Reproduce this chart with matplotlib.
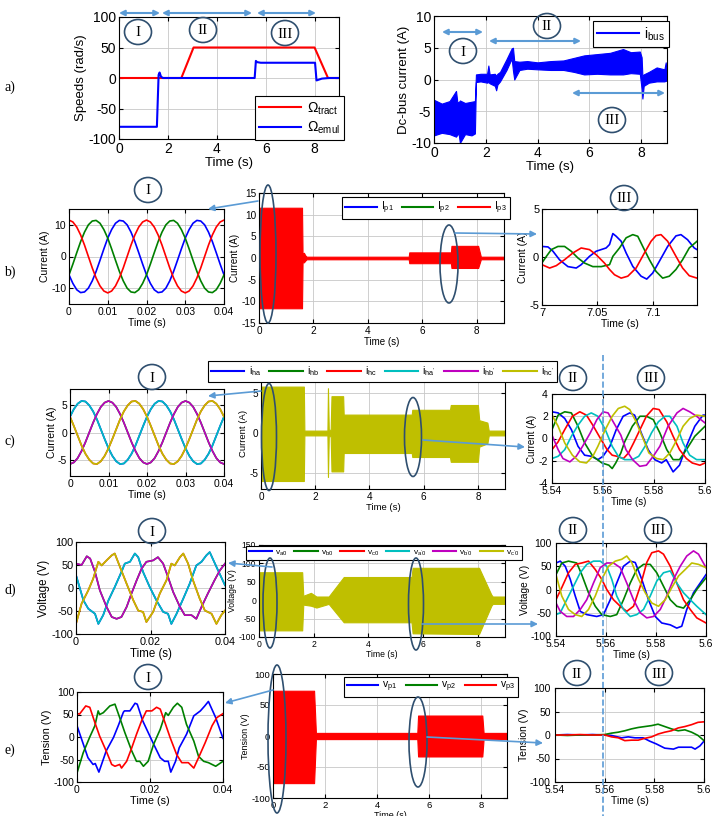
import numpy as np
import matplotlib
matplotlib.use('Agg')
import matplotlib.pyplot as plt
from matplotlib.patches import Ellipse
from matplotlib.lines import Line2D
from matplotlib.ticker import FuncFormatter

plt.rcParams['font.family'] = ['Liberation Sans', 'DejaVu Sans']
plt.rcParams['mathtext.fontset'] = 'custom'
plt.rcParams['mathtext.rm'] = 'Liberation Sans'
plt.rcParams['mathtext.it'] = 'Liberation Sans:italic'
plt.rcParams['axes.unicode_minus'] = False

W, H = 712, 816

# ---------------- data ----------------
# a) speeds
tract_t = [0, 2.55, 3.05, 8.0, 8.55, 9]
tract_w = [0, 0, 50, 50, 0, 0]
emul_t = [0, 1.55, 1.62, 1.66, 1.72, 1.8, 5.55, 5.6, 5.65, 5.8, 8.02, 8.08, 8.15, 8.3, 8.6, 9]
emul_w = [-80, -80, 5, 9, 2, 0, 0, 28, 26, 25, 25, -4, -3, -1, 0, 0]

# a) dc-bus current envelope
ibus_t = [0, 0.3, 0.6, 0.85, 0.9, 0.95, 1.0, 1.2, 1.45, 1.58, 1.62, 1.8, 2.05, 2.1, 2.15, 2.35, 2.4, 2.45,
          2.55, 2.8, 3.0, 3.05, 3.1, 3.3, 3.6, 4.0, 4.5, 5.0, 5.4, 5.8, 6.3, 6.8, 7.3, 7.6, 7.95, 8.02,
          8.05, 8.1, 8.3, 8.6, 8.9, 8.95, 9.0]
ibus_hi = [-3.2, -3.8, -3.4, -1.8, -3.5, -3.6, -3.3, -3.7, -3.5, -3.4, 0.8, 0.9, 0.9, 2.2, 0.8, 0.9, 0.6, 0.9,
           1.2, 3.2, 4.9, 5.0, 2.9, 2.8, 2.9, 2.7, 2.9, 3.0, 3.4, 3.8, 4.0, 4.2, 4.8, 4.3, 4.4, 3.5,
           0.5, 0.8, 1.2, 1.9, 1.6, 2.7, 0.8]
ibus_lo = [-8.8, -8.4, -8.6, -9.0, -8.7, -8.5, -10.0, -8.6, -8.8, -8.5, -0.4, -0.3, -0.5, -0.4, -0.6, -1.0, -1.7, -0.8,
           -0.3, 1.5, 3.3, 1.4, 0.0, 1.5, 1.7, 1.6, 1.5, 1.5, 1.2, 0.8, 0.9, 0.8, 0.8, 1.0, 0.9, -1.5,
           -3.0, -1.0, -0.5, -0.3, -0.3, -0.2, -0.2]

# b) primary currents, zoom I (t in ms steps)
tI = np.linspace(0, 0.04, 41)
ip1_I = [-5.8, -8.5, -10.5, -11.4, -11.2, -10.0, -7.7, -4.7, -1.2, 2.4, 5.8, 8.5, 10.5, 11.4, 11.2, 10.0, 7.7, 4.7, 1.2, -2.4,
         -5.8, -8.5, -10.5, -11.4, -11.2, -10.0, -7.7, -4.7, -1.2, 2.4, 5.8, 8.5, 10.5, 11.4, 11.2, 10.0, 7.7, 4.7, 1.2, -2.4, -5.8]
ip2_I = [-5.8, -2.4, 1.2, 4.7, 7.7, 10.0, 11.2, 11.4, 10.5, 8.5, 5.8, 2.4, -1.2, -4.7, -7.7, -10.0, -11.2, -11.4, -10.5, -8.5,
         -5.8, -2.4, 1.2, 4.7, 7.7, 10.0, 11.2, 11.4, 10.5, 8.5, 5.8, 2.4, -1.2, -4.7, -7.7, -10.0, -11.2, -11.4, -10.5, -8.5, -5.8]
ip3_I = [11.5, 10.9, 9.3, 6.8, 3.6, 0, -3.6, -6.8, -9.3, -10.9, -11.5, -10.9, -9.3, -6.8, -3.6, 0, 3.6, 6.8, 9.3, 10.9,
         11.5, 10.9, 9.3, 6.8, 3.6, 0, -3.6, -6.8, -9.3, -10.9, -11.5, -10.9, -9.3, -6.8, -3.6, 0, 3.6, 6.8, 9.3, 10.9, 11.5]

# b) primary current envelope over the test
ip_t = [0, 1.58, 1.6, 1.65, 1.7, 1.75, 5.5, 5.52, 7.05, 7.07, 8.05, 8.15, 9]
ip_hi = [11.6, 11.6, 1.0, 1.2, 0.6, 0.3, 0.3, 1.3, 1.3, 2.8, 2.8, 0.3, 0.3]
ip_lo = [-11.6, -11.6, -1.0, -1.0, -0.6, -0.3, -0.3, -1.2, -1.2, -2.3, -2.3, -0.3, -0.3]

# b) zoom III
ip1_t = [7.0, 7.0054, 7.0099, 7.0159, 7.0234, 7.0309, 7.0354, 7.0429, 7.0489, 7.0579, 7.061, 7.064, 7.067, 7.0715,
         7.076, 7.082, 7.0895, 7.0946, 7.1, 7.106, 7.1135, 7.121, 7.1255, 7.1315, 7.1375, 7.14]
ip1_III = [1.1, 1.05, 0.6, -0.3, -1.0, -1.15, -0.8, 0.07, 0.6, 0.94, 1.3, 2.44, 2.16, 1.64,
           0.42, -0.98, -2.0, -2.3, -1.67, -0.45, 1.1, 2.2, 2.33, 1.8, 0.94, 0.77]
ip2_t = [7.0, 7.004, 7.0084, 7.0144, 7.0204, 7.0264, 7.0324, 7.0384, 7.0459, 7.0535, 7.061, 7.064, 7.07, 7.076,
         7.082, 7.0865, 7.091, 7.097, 7.103, 7.109, 7.115, 7.121, 7.127, 7.133, 7.14]
ip2_III = [-0.6, 0.07, 0.77, 1.1, 1.1, 0.6, -0.1, -0.63, -1.0, -1.0, -0.8, 0.07, 0.94, 2.0,
           2.33, 2.16, 1.1, -0.28, -1.5, -2.2, -2.0, -1.3, -0.28, 0.94, 1.64]
ip3_t = [7.0, 7.0069, 7.0129, 7.0204, 7.0279, 7.0354, 7.0429, 7.0489, 7.0564, 7.061, 7.0655, 7.0715, 7.0775,
         7.085, 7.0925, 7.0985, 7.103, 7.1075, 7.1135, 7.121, 7.127, 7.133, 7.14]
ip3_III = [-0.8, -1.15, -0.9, -0.28, 0.42, 0.94, 0.77, 0.24, -0.63, -1.3, -1.85, -2.2, -2.0,
           -1.15, 0.42, 1.64, 2.23, 2.33, 1.64, 0.07, -1.15, -1.95, -2.2]

# c) hexaphase currents, zoom I
iha_I = [2.9, 4.3, 5.3, 5.8, 5.7, 5.0, 3.9, 2.4, 0.6, -1.2, -2.9, -4.3, -5.3, -5.8, -5.7, -5.0, -3.9, -2.4, -0.6, 1.2,
         2.9, 4.3, 5.3, 5.8, 5.7, 5.0, 3.9, 2.4, 0.6, -1.2, -2.9, -4.3, -5.3, -5.8, -5.7, -5.0, -3.9, -2.4, -0.6, 1.2, 2.9]
ihb_I = [-5.8, -5.5, -4.7, -3.4, -1.8, 0, 1.8, 3.4, 4.7, 5.5, 5.8, 5.5, 4.7, 3.4, 1.8, 0, -1.8, -3.4, -4.7, -5.5,
         -5.8, -5.5, -4.7, -3.4, -1.8, 0, 1.8, 3.4, 4.7, 5.5, 5.8, 5.5, 4.7, 3.4, 1.8, 0, -1.8, -3.4, -4.7, -5.5, -5.8]
ihc_I = [2.9, 1.2, -0.6, -2.4, -3.9, -5.0, -5.7, -5.8, -5.3, -4.3, -2.9, -1.2, 0.6, 2.4, 3.9, 5.0, 5.7, 5.8, 5.3, 4.3,
         2.9, 1.2, -0.6, -2.4, -3.9, -5.0, -5.7, -5.8, -5.3, -4.3, -2.9, -1.2, 0.6, 2.4, 3.9, 5.0, 5.7, 5.8, 5.3, 4.3, 2.9]

# c) hexaphase current envelope
ih_t = [0, 1.58, 1.6, 2.45, 2.47, 2.5, 2.57, 2.6, 3.03, 3.05, 5.56, 5.58, 6.97, 7.0, 8.0, 8.05, 8.35, 8.4, 9]
ih_hi = [5.8, 5.8, 0.3, 0.3, 5.6, 0.4, 0.4, 4.6, 4.6, 2.3, 2.3, 2.9, 2.9, 3.5, 3.5, 1.6, 1.3, 0.3, 0.3]
ih_lo = [-6.0, -6.0, -0.3, -0.3, -5.5, -0.4, -0.4, -4.8, -4.8, -2.5, -2.5, -3.0, -3.0, -3.6, -3.6, -1.7, -1.3, -0.3, -0.3]

# c) zoom II/III
ha_t = [5.54, 5.5424, 5.545, 5.5476, 5.5502, 5.5528, 5.5554, 5.558, 5.56, 5.5627, 5.5652, 5.5679, 5.5705, 5.5724,
        5.575, 5.5777, 5.5803, 5.583, 5.5848, 5.5875, 5.59, 5.5927, 5.596, 5.5992, 5.6]
ha_II = [2.4, 2.3, 1.8, 0.8, -0.7, -1.5, -1.6, -1.9, -1.6, -0.7, 0.8, 2.0, 2.3, 2.1,
         0.5, -1.0, -1.9, -2.2, -1.9, -3.0, -2.4, -0.7, 1.1, 2.1, 2.1]
hb_t = [5.54, 5.5424, 5.545, 5.5476, 5.5502, 5.5528, 5.556, 5.5596, 5.5623, 5.5636, 5.565, 5.567, 5.5685, 5.5715,
        5.5745, 5.577, 5.5797, 5.5823, 5.585, 5.5875, 5.59, 5.5927, 5.596, 5.6]
hb_II = [0.8, 2.1, 2.4, 2.3, 1.1, -0.4, -1.6, -2.2, -2.4, -2.7, -2.2, -1.3, -0.3, 1.1,
         2.0, 2.0, 1.7, 0.5, -1.0, -1.9, -1.9, -1.0, 0.2, 1.1]
hc_t = [5.54, 5.5424, 5.545, 5.548, 5.5509, 5.5535, 5.556, 5.559, 5.5616, 5.5636, 5.5655, 5.568, 5.57, 5.572,
        5.5745, 5.577, 5.5797, 5.582, 5.585, 5.5875, 5.59, 5.5927, 5.595, 5.598, 5.6]
hc_II = [-1.0, -0.3, 0.8, 2.0, 2.4, 2.1, 1.2, 0.0, -1.0, -1.5, -1.6, -1.8, -1.3, -0.4,
         0.8, 2.0, 2.7, 2.6, 1.5, 0.2, -1.0, -1.8, -2.2, -2.4, -2.2]
hap_t = [5.54, 5.5424, 5.545, 5.5476, 5.5502, 5.5528, 5.5554, 5.558, 5.5609, 5.5636, 5.566, 5.5685, 5.5715, 5.574,
         5.5765, 5.579, 5.5817, 5.5843, 5.5862, 5.589, 5.5914, 5.594, 5.5967, 5.6]
hap_II = [-1.8, -1.6, -1.0, 0.2, 1.2, 2.0, 2.3, 2.0, 0.8, -0.7, -1.6, -1.9, -1.9, -1.6,
          -0.7, 0.5, 1.5, 2.0, 2.0, 1.1, -0.4, -1.5, -1.9, -1.9]
hbp_t = [5.54, 5.5424, 5.5443, 5.547, 5.5495, 5.552, 5.555, 5.5576, 5.56, 5.562, 5.564, 5.567, 5.569, 5.5716,
         5.5744, 5.577, 5.5797, 5.5823, 5.5855, 5.589, 5.5914, 5.594, 5.5967, 5.6]
hbp_II = [0.3, -1.0, -1.8, -2.1, -1.6, -0.7, 0.5, 1.7, 2.4, 2.3, 1.5, 0.3, -1.0, -1.9,
          -2.5, -2.4, -1.6, -0.7, 1.1, 2.3, 2.7, 2.4, 2.0, 1.4]
hcp_t = [5.54, 5.5424, 5.545, 5.548, 5.5509, 5.5535, 5.556, 5.558, 5.5609, 5.5636, 5.566, 5.5685, 5.5705, 5.573,
         5.5757, 5.578, 5.581, 5.5836, 5.5862, 5.589, 5.5914, 5.594, 5.5967, 5.6]
hcp_II = [2.1, 1.1, -0.4, -1.5, -2.1, -2.2, -1.6, -0.7, 0.8, 2.0, 2.7, 2.9, 2.6, 1.5,
          0.0, -1.3, -1.8, -1.9, -1.3, -0.1, 1.1, 1.8, 2.1, 2.0]

# d) hexaphase voltages, zoom I
vm_t = [0, 0.0015, 0.0029, 0.0038, 0.0051, 0.0064, 0.0082, 0.0096, 0.0109, 0.0122, 0.0136, 0.0149, 0.0163, 0.0176,
        0.0189, 0.0207, 0.022, 0.0234, 0.0247, 0.0261, 0.0279, 0.0292, 0.031, 0.0323, 0.0337, 0.0354, 0.0372, 0.0386, 0.04]
vm_I = [53, 50, 69, 64, 35, -5, -41, -63, -67, -63, -41, -12, 17, 42,
        57, 60, 67, 53, 24, -9, -41, -59, -59, -67, -41, -12, 17, 38, 53]
vc_t = [0, 0.002, 0.0033, 0.0051, 0.006, 0.0073, 0.0087, 0.0104, 0.0122, 0.0131, 0.0145, 0.0158, 0.0167, 0.018,
        0.0198, 0.0216, 0.0234, 0.0247, 0.0256, 0.027, 0.0288, 0.0305, 0.0323, 0.0337, 0.035, 0.0359, 0.0377, 0.04]
vc_I = [28, -27, -45, -56, -78, -59, -27, 2, 35, 53, 57, 75, 67, 35,
        2, -27, -52, -56, -78, -56, -23, 9, 49, 57, 71, 78, 46, 6]
vy_t = [0, 0.0015, 0.0033, 0.0046, 0.006, 0.0069, 0.0082, 0.0096, 0.0104, 0.0118, 0.0136, 0.0154, 0.0167, 0.018,
        0.0189, 0.0207, 0.0225, 0.0243, 0.0256, 0.0265, 0.0279, 0.0288, 0.0301, 0.0314, 0.0332, 0.0346, 0.0364, 0.0377,
        0.039, 0.04]
vy_I = [-78, -34, -5, 20, 57, 49, 60, 71, 75, 46, 9, -27, -49, -52,
        -74, -52, -12, 17, 53, 49, 67, 75, 53, 17, -23, -49, -56, -78,
        -59, -49]

# d) voltage envelope
vh_t = [0, 1.58, 1.62, 1.9, 2.1, 2.55, 3.1, 5.58, 5.62, 8.05, 8.5, 8.55, 9]
vh_hi = [76, 76, 12, 20, 10, 10, 63, 63, 88, 88, 15, 10, 10]
vh_lo = [-82, -82, -12, -15, -20, -10, -60, -60, -90, -92, -15, -10, -10]

# d) zoom II/III
va_t = [5.54, 5.5417, 5.5437, 5.5457, 5.5477, 5.5497, 5.5523, 5.5563, 5.559, 5.5617, 5.5643, 5.567, 5.5697, 5.5717,
        5.5743, 5.577, 5.5797, 5.5823, 5.5857, 5.5883, 5.5903, 5.5923, 5.595, 5.5977, 5.6]
va_II = [57, 61, 50, 22, -14, -47, -54, -58, -54, -22, 14, 50, 61, 58,
         22, -22, -58, -72, -76, -83, -79, -43, -7, 14, 32]
vb_t = [5.54, 5.5423, 5.545, 5.5483, 5.5503, 5.553, 5.5557, 5.5583, 5.5617, 5.5643, 5.567, 5.5697, 5.5723, 5.575,
        5.5777, 5.5803, 5.583, 5.5857, 5.5883, 5.591, 5.5937, 5.5963, 5.6]
vb_II = [32, 57, 61, 57, 32, -7, -36, -54, -58, -54, -22, 14, 43, 54,
         54, 36, 7, -22, -36, -40, -22, 0, 25]
vcc_t = [5.54, 5.5423, 5.545, 5.5477, 5.5503, 5.553, 5.5557, 5.5583, 5.5603, 5.563, 5.5657, 5.5683, 5.571, 5.5737,
         5.5763, 5.5783, 5.581, 5.583, 5.5857, 5.5883, 5.591, 5.5937, 5.5963, 5.6]
vcc_II = [-22, 4, 36, 54, 57, 61, 43, 22, 0, -22, -36, -47, -36, 7,
          58, 79, 83, 76, 50, 14, -22, -43, -61, -72]
vap_t = [5.54, 5.5417, 5.5443, 5.547, 5.5497, 5.5523, 5.555, 5.5577, 5.5603, 5.5623, 5.5643, 5.567, 5.5697, 5.5723,
         5.575, 5.5777, 5.5803, 5.583, 5.5857, 5.5883, 5.591, 5.5937, 5.5963, 5.6]
vap_II = [-54, -50, -22, 7, 36, 54, 61, 61, 50, 22, -14, -43, -58, -54,
          -43, -14, 18, 36, 40, 14, -7, -22, -36, -54]
vbp_t = [5.54, 5.5417, 5.5443, 5.547, 5.5497, 5.5523, 5.555, 5.5577, 5.5603, 5.563, 5.5657, 5.5683, 5.571, 5.5737,
         5.5763, 5.579, 5.5817, 5.5843, 5.587, 5.5897, 5.5923, 5.595, 5.597, 5.6]
vbp_II = [-29, -47, -58, -58, -43, -22, 14, 47, 57, 57, 47, 14, -22, -50,
          -61, -58, -43, -14, 22, 50, 72, 83, 76, 47]
vcp_t = [5.54, 5.5423, 5.545, 5.5477, 5.5503, 5.553, 5.5557, 5.5583, 5.561, 5.5637, 5.5663, 5.5683, 5.5703, 5.573,
         5.5757, 5.5783, 5.581, 5.5837, 5.5863, 5.589, 5.5917, 5.5943, 5.597, 5.6]
vcp_II = [32, -14, -43, -54, -58, -43, -14, 22, 50, 61, 65, 72, 58, 22,
          -7, -29, -36, -22, 4, 29, 43, 57, 54, 47]

# e) primary voltages, zoom I
vp1_t = [0, 0.003, 0.0044, 0.005, 0.006, 0.008, 0.01, 0.0113, 0.0127, 0.013, 0.0145, 0.0159, 0.0165, 0.018,
         0.0195, 0.021, 0.0228, 0.024, 0.025, 0.0257, 0.027, 0.028, 0.03, 0.032, 0.0338, 0.035, 0.036, 0.038, 0.04]
vp1_I = [25, -46, -61, -59, -78, -31, -1, 25, 55, 58, 58, 75, 73, 36,
         10, -16, -46, -54, -54, -78, -54, -24, 6, 47, 58, 69, 79, 43, -3]
vp2_t = [0, 0.0017, 0.0035, 0.0049, 0.0058, 0.0062, 0.0072, 0.009, 0.0104, 0.0117, 0.0131, 0.015, 0.0163, 0.0172,
         0.0182, 0.0195, 0.021, 0.0228, 0.0243, 0.025, 0.0264, 0.0275, 0.0287, 0.03, 0.032, 0.0333, 0.0347, 0.036, 0.038, 0.04]
vp2_I = [-80, -35, 0, 25, 58, 50, 54, 69, 73, 43, 10, -31, -54, -54,
         -65, -54, -16, 17, 54, 48, 66, 75, 66, 28, -9, -43, -54, -57, -65, -54]
vp3_t = [0, 0.0007, 0.0024, 0.0035, 0.0049, 0.0062, 0.008, 0.0095, 0.0104, 0.0117, 0.0122, 0.0136, 0.015, 0.0163,
         0.0177, 0.019, 0.0205, 0.0218, 0.0228, 0.0241, 0.0255, 0.0273, 0.0287, 0.0305, 0.032, 0.0333, 0.0351, 0.037,
         0.0383, 0.04]
vp3_I = [52, 51, 69, 66, 32, 2, -31, -61, -65, -61, -69, -54, -24, 6,
         36, 58, 58, 66, 62, 32, -1, -39, -57, -57, -69, -46, -13, 25,
         43, 52]

# e) primary voltage envelope
vp_t = [0, 1.58, 1.65, 5.55, 5.58, 8.05, 8.1, 9]
vp_hi = [73, 73, 5, 5, 33, 33, 5, 5]
vp_lo = [-76, -76, -5, -5, -33, -33, -5, -5]

# e) zoom II/III
vpz1_t = [5.54, 5.545, 5.55, 5.555, 5.56, 5.5628, 5.5668, 5.5695, 5.5722, 5.5755, 5.5781, 5.5808, 5.5842, 5.5877,
          5.5897, 5.5923, 5.595, 5.5964, 5.5984, 5.6]
vpz1_II = [0, 1, 0, 1, 0, -1, -6, -4, -6, -6, -13, -19, -28, -30,
           -26, -26, -26, -30, -23, -13]
vpz2_t = [5.54, 5.545, 5.55, 5.555, 5.56, 5.5628, 5.5655, 5.5681, 5.5708, 5.5735, 5.5762, 5.5789, 5.5815, 5.5842,
          5.5869, 5.5896, 5.5923, 5.595, 5.5976, 5.6]
vpz2_II = [0, -1, 0, 0, 1, 4, 6, 9, 13, 16, 18, 20, 23, 18,
           13, 9, 11, 6, -1, -12]
vpz3_t = [5.54, 5.545, 5.55, 5.555, 5.56, 5.5628, 5.5655, 5.5681, 5.5708, 5.5735, 5.5762, 5.5789, 5.5815, 5.5842,
          5.5869, 5.5896, 5.5923, 5.595, 5.5976, 5.6]
vpz3_II = [0, 0, 1, 0, 0, -4, -6, -12, -11, -11, -7, -4, 2, 6,
           9, 15, 18, 22, 27, 28]

# ---------------- drawing ----------------
cB, cG, cR = '#0000ff', '#008000', '#ff0000'
cC, cM, cY = '#00bfbf', '#bf00bf', '#bfbf00'
light = '#5b9bd5'
dark = '#2f4f6f'

fig = plt.figure(figsize=(W / 100, H / 100), dpi=100)
fmt = FuncFormatter(lambda v, p: '%g' % round(v, 6))


def box(x0, y0, x1, y1):
    return fig.add_axes([x0 / W, 1 - y1 / H, (x1 - x0) / W, (y1 - y0) / H])


def style(ax, xlim, ylim, xt, yt, fs, xl=None, yl=None, lfs=None, ypad=2):
    ax.set_xlim(xlim)
    ax.set_ylim(ylim)
    ax.set_xticks(xt)
    ax.set_yticks(yt)
    ax.xaxis.set_major_formatter(fmt)
    ax.yaxis.set_major_formatter(fmt)
    ax.tick_params(direction='in', labelsize=fs, length=3, top=True, right=True, pad=2)
    ax.tick_params(axis='y', pad=ypad)
    ax.grid(True, color='#c8c8c8', lw=0.6)
    ax.set_axisbelow(True)
    for s in ax.spines.values():
        s.set_linewidth(0.8)
    lfs = lfs or fs
    if xl:
        ax.set_xlabel(xl, fontsize=lfs, labelpad=1)
    if yl:
        ax.set_ylabel(yl, fontsize=lfs, labelpad=1)


def leg(ax, cols, labels, x0, y0, x1, y1, ncol, fs, hl=3.0):
    hs = [Line2D([], [], color=c, lw=1.5) for c in cols]
    lg = ax.legend(hs, labels, ncol=ncol, loc='center', fontsize=fs, handlelength=hl,
                   bbox_to_anchor=((x0 + x1) / 2 / W, 1 - (y0 + y1) / 2 / H),
                   bbox_transform=fig.transFigure, fancybox=False, framealpha=1,
                   edgecolor='black', borderpad=0.3, columnspacing=0.8, handletextpad=0.4,
                   labelspacing=0.2)
    lg.get_frame().set_linewidth(0.8)
    lg.set_zorder(20)


def band(ax, t, hi, lo, col):
    ax.fill_between(t, lo, hi, color=col, lw=0.8, ec=col)


# a) left
ax = box(119, 17, 339, 139)
ax.plot(tract_t, tract_w, color=cR, lw=1.5)
ax.plot(emul_t, emul_w, color=cB, lw=1.5)
style(ax, (0, 9), (-100, 100), [0, 2, 4, 6, 8], [-100, -50, 0, 50, 100], 10, 'Time (s)', 'Speeds (rad/s)', 9.5)
leg(ax, [cR, cB], [r'$\Omega_{\rm tract}$', r'$\Omega_{\rm emul}$'], 259, 93, 340, 143, 1, 10)

# a) right
ax = box(434, 16, 667, 143)
band(ax, ibus_t, ibus_hi, ibus_lo, cB)
style(ax, (0, 9), (-10, 10), [0, 2, 4, 6, 8], [-10, -5, 0, 5, 10], 10, 'Time (s)', 'Dc-bus current (A)', 9.5)
leg(ax, [cB], [r'i$_{\rm bus}$'], 597, 20, 665, 48, 1, 10)

# b) left
ax = box(69, 209, 224, 304)
ax.plot(tI, ip1_I, color=cB, lw=1.2)
ax.plot(tI, ip2_I, color=cG, lw=1.2)
ax.plot(tI, ip3_I, color=cR, lw=1.2)
style(ax, (0, 0.04), (-15, 15), [0, 0.01, 0.02, 0.03, 0.04], [-10, 0, 10], 7.5, 'Time (s)', 'Current (A)', 7.5)

# b) middle
ax = box(259, 193, 504, 323)
band(ax, ip_t, ip_hi, ip_lo, cR)
style(ax, (0, 9), (-15, 15), [0, 2, 4, 6, 8], [-15, -10, -5, 0, 5, 10, 15], 7.2, 'Time (s)', 'Current (A)', 7)
leg(ax, [cB, cG, cR], [r'I$_{\rm p1}$', r'I$_{\rm p2}$', r'I$_{\rm p3}$'], 352, 198, 500, 218, 3, 7.5)

# b) right
ax = box(542, 209, 697, 305)
ax.plot(ip1_t, ip1_III, color=cB, lw=1.2)
ax.plot(ip2_t, ip2_III, color=cG, lw=1.2)
ax.plot(ip3_t, ip3_III, color=cR, lw=1.2)
style(ax, (7, 7.14), (-5, 5), [7, 7.05, 7.1], [-5, 0, 5], 8, 'Time (s)', 'Current (A)', 7.5)

# c) left
ax = box(70, 389, 224, 476)
for y, c1 in [(iha_I, cB), (ihb_I, cG), (ihc_I, cR)]:
    ax.plot(tI, y, color=c1, lw=1.2)
for y, c2 in [(iha_I, cC), (ihb_I, cM), (ihc_I, cY)]:
    ax.plot(tI, y, color=c2, lw=1.2)
style(ax, (0, 0.04), (-8, 8), [0, 0.01, 0.02, 0.03, 0.04], [-5, 0, 5], 7.5, 'Time (s)', 'Current (A)', 7.5)

# c) middle
ax = box(261, 377, 505, 489)
band(ax, ih_t, ih_hi, ih_lo, cY)
style(ax, (0, 9), (-7, 7), [0, 2, 4, 6, 8], [-5, 0, 5], 7.2, 'Time (s)', 'Current (A)', 6.8)
leg(ax, [cB, cG, cR, cC, cM, cY],
    [r'i$_{\rm ha}$', r'i$_{\rm hb}$', r'i$_{\rm hc}$', r"i$_{\rm ha'}$", r"i$_{\rm hb'}$", r"i$_{\rm hc'}$"],
    238, 360, 527, 383, 6, 7.5, 3.2)

# c) right
ax = box(552, 394, 705, 483)
for t, y, c in [(ha_t, ha_II, cB), (hb_t, hb_II, cG), (hc_t, hc_II, cR),
                (hap_t, hap_II, cC), (hbp_t, hbp_II, cM), (hcp_t, hcp_II, cY)]:
    ax.plot(t, y, color=c, lw=1.2)
style(ax, (5.54, 5.6), (-4, 4), [5.54, 5.56, 5.58, 5.6], [-4, -2, 0, 2, 4], 7.5, 'Time (s)', 'Current (A)', 7,
      ypad=3)

# d) left
ax = box(76, 542, 225, 634)
for t, y, c in [(vc_t, vc_I, cB), (vm_t, vm_I, cG), (vy_t, vy_I, cR),
                (vc_t, vc_I, cC), (vm_t, vm_I, cM), (vy_t, vy_I, cY)]:
    ax.plot(t, y, color=c, lw=1.2)
style(ax, (0, 0.04), (-100, 100), [0, 0.02, 0.04], [-100, -50, 0, 50, 100], 7.8, 'Time (s)', 'Voltage (V)', 8.3)

# d) middle
ax = box(259, 545, 505, 637)
band(ax, vh_t, vh_hi, vh_lo, cY)
style(ax, (0, 9), (-100, 150), [0, 2, 4, 6, 8], [-100, -50, 0, 50, 100, 150], 6.2, 'Time (s)', 'Voltage (V)', 6.2)
leg(ax, [cB, cG, cR, cC, cM, cY],
    [r'v$_{\rm a0}$', r'v$_{\rm b0}$', r'v$_{\rm c0}$', r"v$_{\rm a'0}$", r"v$_{\rm b'0}$", r"v$_{\rm c'0}$"],
    256, 544, 512, 562, 6, 6, 2.8)

# d) right
ax = box(556, 543, 706, 636)
for t, y, c in [(va_t, va_II, cB), (vb_t, vb_II, cG), (vcc_t, vcc_II, cR),
                (vap_t, vap_II, cC), (vbp_t, vbp_II, cM), (vcp_t, vcp_II, cY)]:
    ax.plot(t, y, color=c, lw=1.2)
style(ax, (5.54, 5.6), (-100, 100), [5.54, 5.56, 5.58, 5.6], [-100, -50, 0, 50, 100], 7.5, 'Time (s)', 'Voltage (V)', 7.3,
      ypad=3)

# e) left
ax = box(77, 692, 223, 782)
ax.plot(vp1_t, vp1_I, color=cB, lw=1.2)
ax.plot(vp2_t, vp2_I, color=cG, lw=1.2)
ax.plot(vp3_t, vp3_I, color=cR, lw=1.2)
style(ax, (0, 0.04), (-100, 100), [0, 0.02, 0.04], [-100, -50, 0, 50, 100], 7.5, 'Time (s)', 'Tension (V)', 7.8)

# e) middle
ax = box(273, 674, 507, 798)
band(ax, vp_t, vp_hi, vp_lo, cR)
style(ax, (0, 9), (-100, 100), [0, 2, 4, 6, 8], [-100, -50, 0, 50, 100], 6.8, 'Time (s)', 'Tension (V)', 6.5)
leg(ax, [cB, cG, cR], [r'v$_{\rm p1}$', r'v$_{\rm p2}$', r'v$_{\rm p3}$'], 355, 679, 507, 695, 3, 7.5)

# e) right
ax = box(555, 688, 704, 782)
ax.plot(vpz1_t, vpz1_II, color=cB, lw=1.2)
ax.plot(vpz2_t, vpz2_II, color=cG, lw=1.2)
ax.plot(vpz3_t, vpz3_II, color=cR, lw=1.2)
style(ax, (5.54, 5.6), (-100, 100), [5.54, 5.56, 5.58, 5.6], [-100, -50, 0, 50, 100], 7.5, 'Time (s)', 'Tension (V)', 7.5,
      ypad=3)

# ---------------- annotations overlay ----------------
ov = fig.add_axes([0, 0, 1, 1])
ov.set_xlim(0, W)
ov.set_ylim(H, 0)
ov.axis('off')
ov.set_zorder(30)

for lab, y in [('a)', 87), ('b)', 272), ('c)', 441), ('d)', 590), ('e)', 750)]:
    ov.text(10, y, lab, family='Liberation Serif', fontsize=10, ha='center', va='center')

for x, y, s in [(138, 32, 'I'), (203, 30, 'II'), (285, 33, 'III'),
                (463, 51, 'I'), (547, 26, 'II'), (612, 120, 'III'),
                (148, 190, 'I'), (624, 198, 'III'),
                (152, 377, 'I'), (573, 378, 'II'), (651, 378, 'III'),
                (152, 531, 'I'), (573, 530, 'II'), (658, 530, 'III'),
                (148, 677, 'I'), (577, 673, 'II'), (659, 673, 'III')]:
    ov.add_patch(Ellipse((x, y), 27, 25, fill=False, ec=dark, lw=1.2))
    ov.text(x, y + 1, s, family='Liberation Serif', fontsize=11, ha='center', va='center')

for x0, x1, y in [(119, 160, 13), (162, 252, 13), (257, 316, 13),
                  (442, 483, 32), (489, 581, 41), (572, 665, 93)]:
    ov.annotate('', xy=(x1, y), xytext=(x0, y),
                arrowprops=dict(arrowstyle='<|-|>', color=light, lw=1.5, mutation_scale=8,
                                shrinkA=0, shrinkB=0))

for cx, cy, w, h in [(268, 254, 16, 138), (449, 264, 18, 78),
                     (269, 437, 15, 107), (413, 437, 17, 79),
                     (270, 603, 14, 90), (416, 604, 15, 92),
                     (277, 739, 18, 148), (418, 742, 18, 90)]:
    ov.add_patch(Ellipse((cx, cy), w, h, fill=False, ec=dark, lw=1.2))

for x0, y0, x1, y1 in [(258, 201, 208, 209), (455, 233, 537, 234),
                       (261, 391, 208, 396), (423, 440, 525, 447),
                       (272, 567, 228, 563), (422, 624, 538, 624),
                       (273, 690, 225, 703), (427, 737, 543, 743)]:
    ov.annotate('', xy=(x1, y1), xytext=(x0, y0),
                arrowprops=dict(arrowstyle='-|>', color=light, lw=1.2, mutation_scale=9,
                                shrinkA=0, shrinkB=0))

ov.plot([603, 603], [355, 816], color=light, ls='--', lw=1.2)

fig.savefig('out.png', dpi=100)
